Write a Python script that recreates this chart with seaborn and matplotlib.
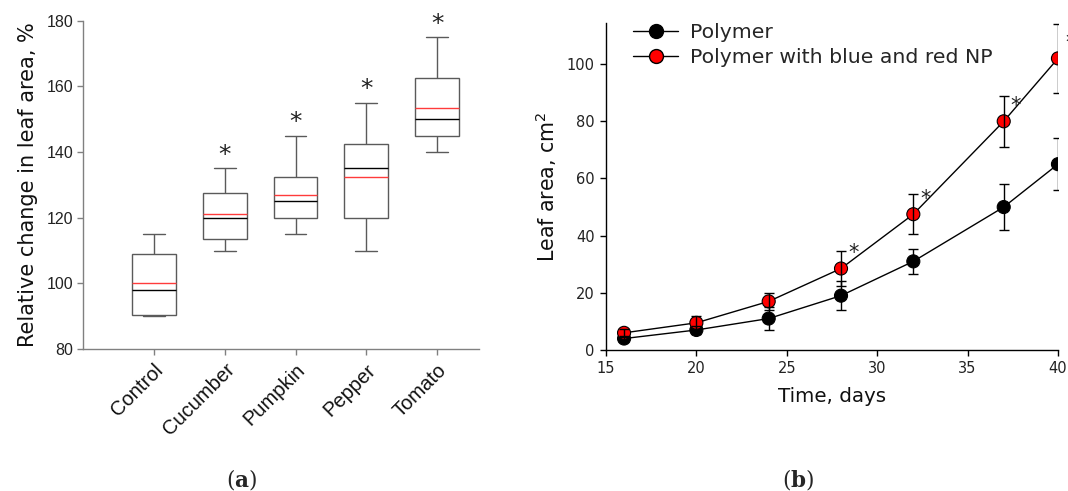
import numpy as np
import pandas as pd
import matplotlib
matplotlib.use("Agg")
import matplotlib.pyplot as plt
from matplotlib.lines import Line2D
import seaborn as sns

# ---------------- data: panel (a) ----------------
crops = ["Control", "Cucumber", "Pumpkin", "Pepper", "Tomato"]
whisk_lo = [90.0, 110.0, 115.0, 110.0, 140.0]
q1 = [90.5, 113.5, 120.0, 120.0, 145.0]
median = [98.0, 120.0, 125.0, 135.0, 150.0]
q3 = [109.0, 127.5, 132.5, 142.5, 162.5]
whisk_hi = [115.0, 135.0, 145.0, 155.0, 175.0]
mean = [100.0, 121.0, 127.0, 132.5, 153.5]
sig_a = [False, True, True, True, True]

# ---------------- data: panel (b) ----------------
days = [16, 20, 24, 28, 32, 37, 40]
polymer = [4.0, 7.0, 11.0, 19.0, 31.0, 50.0, 65.0]
polymer_err = [1.0, 1.5, 4.0, 5.0, 4.5, 8.0, 9.0]
polymer_np = [6.0, 9.5, 17.0, 28.5, 47.5, 80.0, 102.0]
polymer_np_err = [1.5, 2.5, 3.0, 6.0, 7.0, 9.0, 12.0]
sig_b = [False, False, False, True, True, True, True]
series_names = ["Polymer", "Polymer with blue and red NP"]

sns.set_theme(style="white")
plt.rcParams["font.family"] = ["DejaVu Sans"]
plt.rcParams["mathtext.fontset"] = "dejavusans"

fig = plt.figure(figsize=(10.68, 4.91), dpi=100)
axA = fig.add_axes([0.0777, 0.2892, 0.3708, 0.6686])
axB = fig.add_axes([0.5674, 0.2872, 0.4232, 0.6666])

# ---------------- panel (a) ----------------
rows = []
for c, a, b, m, d, e in zip(crops, whisk_lo, q1, median, q3, whisk_hi):
    for v in (a, b, m, d, e):
        rows.append({"crop": c, "val": v})
dfA = pd.DataFrame(rows)
box_w = 0.62
grey = "#5a5a5a"
sns.boxplot(data=dfA, x="crop", y="val", order=crops, whis=np.inf, width=box_w,
            color="white", linecolor=grey, linewidth=1.0, ax=axA,
            medianprops={"color": "black", "linewidth": 1.0})
for i, mv in enumerate(mean):
    axA.hlines(mv, i - box_w / 2, i + box_w / 2, color="#ff3b3b", linewidth=1.0, zorder=5)
for i, (s, hi) in enumerate(zip(sig_a, whisk_hi)):
    if s:
        axA.annotate("*", (i, hi), xytext=(0, 1), textcoords="offset points",
                     ha="center", va="bottom", fontsize=18, color="#222222")
axA.set_xlim(-1.0, 4.59)
axA.set_ylim(80, 180)
axA.set_yticks([80, 100, 120, 140, 160, 180])
axA.set_xlabel("")
axA.set_ylabel("Relative change in leaf area, %", fontsize=15, labelpad=6, color="#111111")
for sp in ["top", "right"]:
    axA.spines[sp].set_visible(False)
for sp in ["left", "bottom"]:
    axA.spines[sp].set_color("#808080")
    axA.spines[sp].set_linewidth(1.0)
axA.tick_params(axis="both", which="both", direction="out", length=4, width=1.0,
                color="#808080", left=True, bottom=True)
axA.tick_params(axis="y", labelsize=11.5, labelcolor="#222222", pad=3)
for t in axA.get_yticklabels():
    t.set_fontfamily(["Liberation Sans"])
axA.set_xticks(range(len(crops)))
axA.set_xticklabels(crops, rotation=45, ha="right", rotation_mode="anchor",
                    fontsize=14.5, family=["Liberation Sans"], color="#111111")
axA.tick_params(axis="x", pad=4)

# ---------------- panel (b) ----------------
dfB = pd.DataFrame({
    "day": days * 2,
    "area": polymer + polymer_np,
    "err": polymer_err + polymer_np_err,
    "series": [series_names[0]] * len(days) + [series_names[1]] * len(days),
})
sns.lineplot(data=dfB, x="day", y="area", hue="series", palette=["black", "black"],
             linewidth=1.0, legend=False, ax=axB, zorder=2)
sns.scatterplot(data=dfB, x="day", y="area", hue="series", palette=["black", "red"],
                s=88, edgecolor="black", linewidth=0.8, legend=False, ax=axB, zorder=3)
for name in series_names:
    sub = dfB[dfB["series"] == name]
    axB.errorbar(sub["day"], sub["area"], yerr=sub["err"], fmt="none", ecolor="black",
                 elinewidth=1.0, capsize=3.5, capthick=1.0, zorder=4)
for d, v, s in zip(days, polymer_np, sig_b):
    if s:
        axB.annotate("*", (d, v), xytext=(5, 4), textcoords="offset points",
                     ha="left", va="bottom", fontsize=15, color="#222222", zorder=6)

axB.set_xlim(15, 40)
axB.set_ylim(0, 114.5)
axB.set_xticks([15, 20, 25, 30, 35, 40])
axB.set_yticks([0, 20, 40, 60, 80, 100])
axB.set_xlabel("Time, days", fontsize=14.3, labelpad=8, color="#111111")
axB.set_ylabel("Leaf area, cm$^2$", fontsize=14.8, labelpad=6, color="#111111")
for sp in ["top", "right"]:
    axB.spines[sp].set_visible(False)
for sp in ["left", "bottom"]:
    axB.spines[sp].set_color("black")
    axB.spines[sp].set_linewidth(1.0)
axB.tick_params(axis="both", direction="out", length=4, width=1.0, color="black",
                left=True, bottom=True, labelsize=10.5, labelcolor="#222222", pad=4)

handles = [
    Line2D([], [], color="black", lw=1.0, marker="o", markersize=10,
           markerfacecolor="black", markeredgecolor="black"),
    Line2D([], [], color="black", lw=1.0, marker="o", markersize=10,
           markerfacecolor="red", markeredgecolor="black"),
]
axB.legend(handles, series_names, loc="upper left", bbox_to_anchor=(0.06, 1.0),
           frameon=False, fontsize=14.7, handlelength=2.2, handletextpad=0.6,
           borderpad=0, borderaxespad=0, labelspacing=0.33)

# ---------------- captions ----------------
plt.rcParams["mathtext.fontset"] = "dejavuserif"
fig.text(242 / 1068, 1 - 480 / 491, r"$(\mathbf{a})$", ha="center", va="center",
         fontsize=15.5, family=["DejaVu Serif"])
fig.text(798 / 1068, 1 - 480 / 491, r"$(\mathbf{b})$", ha="center", va="center",
         fontsize=15.5, family=["DejaVu Serif"])

fig.savefig("out.png", dpi=100)
